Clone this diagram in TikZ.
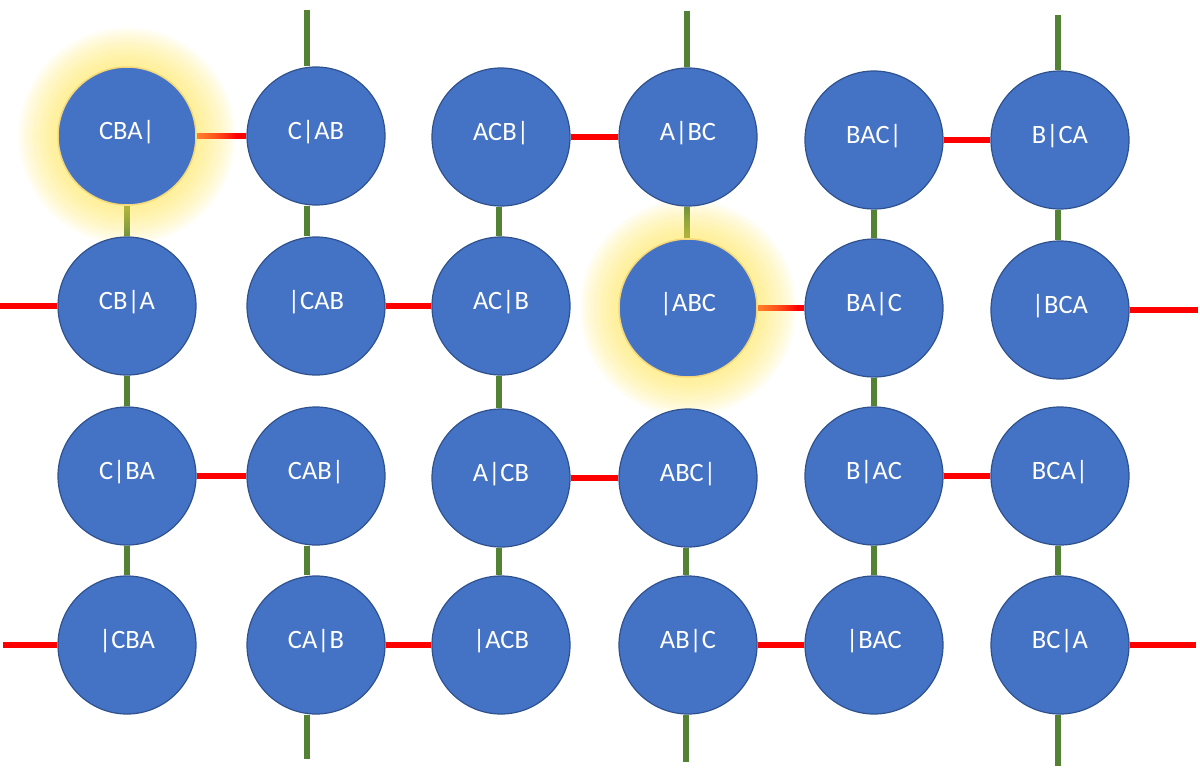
\documentclass[tikz,border=0pt]{standalone}
\usepackage{fontspec}
\setmainfont{Carlito}
\definecolor{nodeblue}{HTML}{4472C4}
\definecolor{nodeedge}{HTML}{2F528F}
\definecolor{linkgreen}{HTML}{548235}
\definecolor{linkred}{HTML}{FF0000}
\definecolor{glowyellow}{HTML}{FFE552}
\definecolor{glowedge}{HTML}{F4D77A}
\pgfdeclarelayer{edges}
\pgfdeclarelayer{glow}
\pgfsetlayers{edges,glow,main}
\begin{document}
\begin{tikzpicture}[x=1pt,y=-1pt,
  state/.style={circle, fill=nodeblue, draw=nodeedge, line width=1.2pt,
    minimum size=138pt, inner sep=0pt, text=white,
    text height=17pt, text depth=10pt,
    font=\fontsize{26.5}{30}\selectfont},
  lit/.style={state, draw=glowedge, line width=1.5pt},
  vlink/.style={draw=linkgreen, line width=5.5pt},
  hlink/.style={draw=linkred, line width=5.5pt}]
\useasboundingbox (0,0) rectangle (1200,771);

% row 1
\node[lit]   (r1c1) at (127,136) {CBA|};
\node[state] (r1c2) at (316,136) {C|AB};
\node[state] (r1c3) at (501,137) {ACB|};
\node[state] (r1c4) at (688,137) {A|BC};
\node[state] (r1c5) at (874,140) {BAC|};
\node[state] (r1c6) at (1060,140) {B|CA};
% row 2
\node[state] (r2c1) at (127,306) {CB|A};
\node[state] (r2c2) at (316,306) {|CAB};
\node[state] (r2c3) at (501,306) {AC|B};
\node[lit]   (r2c4) at (688,308) {|ABC};
\node[state] (r2c5) at (874,308) {BA|C};
\node[state] (r2c6) at (1060,310) {|BCA};
% row 3
\node[state] (r3c1) at (127,476) {C|BA};
\node[state] (r3c2) at (316,476) {CAB|};
\node[state] (r3c3) at (501,478) {A|CB};
\node[state] (r3c4) at (688,478) {ABC|};
\node[state] (r3c5) at (874,476) {B|AC};
\node[state] (r3c6) at (1060,476) {BCA|};
% row 4
\node[state] (r4c1) at (127,645) {|CBA};
\node[state] (r4c2) at (316,645) {CA|B};
\node[state] (r4c3) at (501,645) {|ACB};
\node[state] (r4c4) at (688,645) {AB|C};
\node[state] (r4c5) at (874,645) {|BAC};
\node[state] (r4c6) at (1060,645) {BC|A};

% free ends
\coordinate (L2) at (0,306);
\coordinate (R2) at (1198,310);
\coordinate (L4) at (3,645);
\coordinate (R4) at (1196,645);
\coordinate (T2) at (307,10);
\coordinate (T4) at (687,11);
\coordinate (T6) at (1058,15);
\coordinate (B2) at (307,759);
\coordinate (B4) at (686,762);
\coordinate (B6) at (1058,766);

\begin{pgfonlayer}{edges}
  % red horizontal links
  \draw[hlink] (r1c1.east) -- (r1c2.west);
  \draw[hlink] (r1c3.east) -- (r1c4.west);
  \draw[hlink] (r1c5.east) -- (r1c6.west);
  \draw[hlink] (L2) -- (r2c1.west);
  \draw[hlink] (r2c2.east) -- (r2c3.west);
  \draw[hlink] (r2c4.east) -- (r2c5.west);
  \draw[hlink] (r2c6.east) -- (R2);
  \draw[hlink] (r3c1.east) -- (r3c2.west);
  \draw[hlink] (r3c3.east) -- (r3c4.west);
  \draw[hlink] (r3c5.east) -- (r3c6.west);
  \draw[hlink] (L4) -- (r4c1.west);
  \draw[hlink] (r4c2.east) -- (r4c3.west);
  \draw[hlink] (r4c4.east) -- (r4c5.west);
  \draw[hlink] (r4c6.east) -- (R4);
  % green vertical links
  \draw[vlink] (r1c1.south) -- (r2c1.north);
  \draw[vlink] (r2c1.south) -- (r3c1.north);
  \draw[vlink] (r3c1.south) -- (r4c1.north);
  \draw[vlink] (T2) -- ([xshift=-9pt]r1c2.north);
  \draw[vlink] ([xshift=-9pt]r1c2.south) -- ([xshift=-9pt]r2c2.north);
  \draw[vlink] ([xshift=-9pt]r3c2.south) -- ([xshift=-9pt]r4c2.north);
  \draw[vlink] ([xshift=-9pt]r4c2.south) -- (B2);
  \draw[vlink] ([xshift=-2pt]r1c3.south) -- ([xshift=-2pt]r2c3.north);
  \draw[vlink] ([xshift=-2pt]r2c3.south) -- ([xshift=-2pt]r3c3.north);
  \draw[vlink] ([xshift=-2pt]r3c3.south) -- ([xshift=-2pt]r4c3.north);
  \draw[vlink] (T4) -- ([xshift=-1pt]r1c4.north);
  \draw[vlink] ([xshift=-1pt]r1c4.south) -- ([xshift=-1pt]r2c4.north);
  \draw[vlink] ([xshift=-2pt]r3c4.south) -- ([xshift=-2pt]r4c4.north);
  \draw[vlink] ([xshift=-2pt]r4c4.south) -- (B4);
  \draw[vlink] (r1c5.south) -- (r2c5.north);
  \draw[vlink] (r2c5.south) -- (r3c5.north);
  \draw[vlink] (r3c5.south) -- (r4c5.north);
  \draw[vlink] (T6) -- ([xshift=-2pt]r1c6.north);
  \draw[vlink] ([xshift=-2pt]r1c6.south) -- ([xshift=-2pt]r2c6.north);
  \draw[vlink] ([xshift=-2pt]r3c6.south) -- ([xshift=-2pt]r4c6.north);
  \draw[vlink] ([xshift=-2pt]r4c6.south) -- (B6);
\end{pgfonlayer}

\begin{pgfonlayer}{glow}
  \foreach \k in {1,...,20}{
    \pgfmathsetmacro\rr{69+2.0*\k}
    \fill[glowyellow, opacity=0.045] (r1c1) circle[radius=\rr pt];
    \fill[glowyellow, opacity=0.045] (r2c4) circle[radius=\rr pt];
  }
\end{pgfonlayer}
\end{tikzpicture}
\end{document}
